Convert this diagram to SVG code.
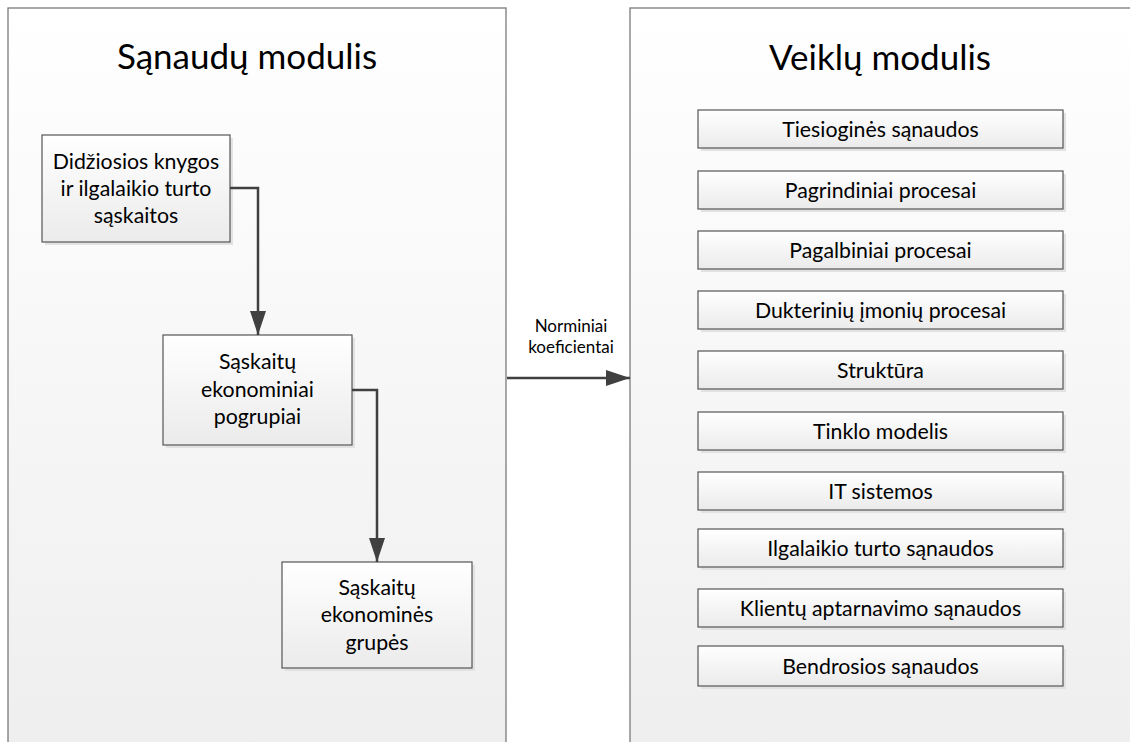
<svg xmlns="http://www.w3.org/2000/svg" width="1130" height="742" viewBox="0 0 1130 742">
<defs>
<linearGradient id="panelGrad" x1="0" y1="0" x2="0" y2="1">
<stop offset="0" stop-color="#ffffff"/>
<stop offset="1" stop-color="#eeeeee"/>
</linearGradient>
<linearGradient id="boxGrad" x1="0" y1="0" x2="0" y2="1">
<stop offset="0" stop-color="#ffffff"/>
<stop offset="1" stop-color="#ebebeb"/>
</linearGradient>
<marker id="arrow" viewBox="0 0 24 16" refX="24" refY="8" markerWidth="24" markerHeight="16" markerUnits="userSpaceOnUse" orient="auto">
<path d="M0,0 L24,8 L0,16 Z" fill="#404040"/>
</marker>
</defs>
<style>
.panel{fill:url(#panelGrad);stroke:#707070;stroke-width:1.2}
.box{fill:url(#boxGrad);stroke:#555555;stroke-width:1.2}
.shadow{fill:#e2e2e2}
.title{font-family:Lato,"Open Sans",sans-serif;font-size:35px;fill:#000;text-anchor:middle}
.lbl{font-family:Lato,"Open Sans",sans-serif;font-size:21.3px;fill:#000;text-anchor:middle}
.small{font-family:Lato,"Open Sans",sans-serif;font-size:17px;fill:#000;text-anchor:middle}
.conn{fill:none;stroke:#404040;stroke-width:2.5}
</style>
<rect width="1130" height="742" fill="#ffffff"/>
<g id="panel-sanaudu">
<rect class="panel" x="8" y="8" width="498" height="760"/>
<text class="title" x="247" y="69">Sąnaudų modulis</text>
</g>
<g id="panel-veiklu">
<rect class="panel" x="630" y="8" width="520" height="760"/>
<text class="title" x="880" y="70">Veiklų modulis</text>
</g>
<g id="node-didziosios">
<rect class="shadow" x="45" y="138" width="188" height="107"/>
<rect class="box" x="42" y="135" width="188" height="107"/>
<text class="lbl" x="136" y="169">Didžiosios knygos</text>
<text class="lbl" x="136" y="196">ir ilgalaikio turto</text>
<text class="lbl" x="136" y="223">sąskaitos</text>
</g>
<g id="node-pogrupiai">
<rect class="shadow" x="166" y="338" width="189" height="110"/>
<rect class="box" x="163" y="335" width="189" height="110"/>
<text class="lbl" x="257.5" y="369">Sąskaitų</text>
<text class="lbl" x="257.5" y="397">ekonominiai</text>
<text class="lbl" x="257.5" y="424">pogrupiai</text>
</g>
<g id="node-grupes">
<rect class="shadow" x="285" y="565" width="190" height="106"/>
<rect class="box" x="282" y="562" width="190" height="106"/>
<text class="lbl" x="377" y="595">Sąskaitų</text>
<text class="lbl" x="377" y="622">ekonominės</text>
<text class="lbl" x="377" y="650">grupės</text>
</g>
<g id="node-tiesiogines">
<rect class="shadow" x="701" y="113" width="365" height="38"/>
<rect class="box" x="698" y="110" width="365" height="38"/>
<text class="lbl" x="880.5" y="137">Tiesioginės sąnaudos</text>
</g>
<g id="node-pagrindiniai">
<rect class="shadow" x="701" y="174" width="365" height="38"/>
<rect class="box" x="698" y="171" width="365" height="38"/>
<text class="lbl" x="880.5" y="198">Pagrindiniai procesai</text>
</g>
<g id="node-pagalbiniai">
<rect class="shadow" x="701" y="234" width="365" height="38"/>
<rect class="box" x="698" y="231" width="365" height="38"/>
<text class="lbl" x="880.5" y="258">Pagalbiniai procesai</text>
</g>
<g id="node-dukteriniu">
<rect class="shadow" x="701" y="294" width="365" height="38"/>
<rect class="box" x="698" y="291" width="365" height="38"/>
<text class="lbl" x="880.5" y="318">Dukterinių įmonių procesai</text>
</g>
<g id="node-struktura">
<rect class="shadow" x="701" y="354" width="365" height="38"/>
<rect class="box" x="698" y="351" width="365" height="38"/>
<text class="lbl" x="880.5" y="378">Struktūra</text>
</g>
<g id="node-tinklo">
<rect class="shadow" x="701" y="415" width="365" height="38"/>
<rect class="box" x="698" y="412" width="365" height="38"/>
<text class="lbl" x="880.5" y="439">Tinklo modelis</text>
</g>
<g id="node-it">
<rect class="shadow" x="701" y="475" width="365" height="38"/>
<rect class="box" x="698" y="472" width="365" height="38"/>
<text class="lbl" x="880.5" y="499">IT sistemos</text>
</g>
<g id="node-ilgalaikio">
<rect class="shadow" x="701" y="532" width="365" height="38"/>
<rect class="box" x="698" y="529" width="365" height="38"/>
<text class="lbl" x="880.5" y="556">Ilgalaikio turto sąnaudos</text>
</g>
<g id="node-klientu">
<rect class="shadow" x="701" y="592" width="365" height="38"/>
<rect class="box" x="698" y="589" width="365" height="38"/>
<text class="lbl" x="880.5" y="616">Klientų aptarnavimo sąnaudos</text>
</g>
<g id="node-bendrosios">
<rect class="shadow" x="701" y="649" width="365" height="40"/>
<rect class="box" x="698" y="646" width="365" height="40"/>
<text class="lbl" x="880.5" y="674">Bendrosios sąnaudos</text>
</g>
<g id="connectors">
<path class="conn" d="M230,188 H258 V335" marker-end="url(#arrow)"/>
<path class="conn" d="M352,390 H377 V562" marker-end="url(#arrow)"/>
<path class="conn" d="M507,378 H630" marker-end="url(#arrow)"/>
<text class="small" x="571" y="332">Norminiai</text>
<text class="small" x="571" y="353">koeficientai</text>
</g>
</svg>
